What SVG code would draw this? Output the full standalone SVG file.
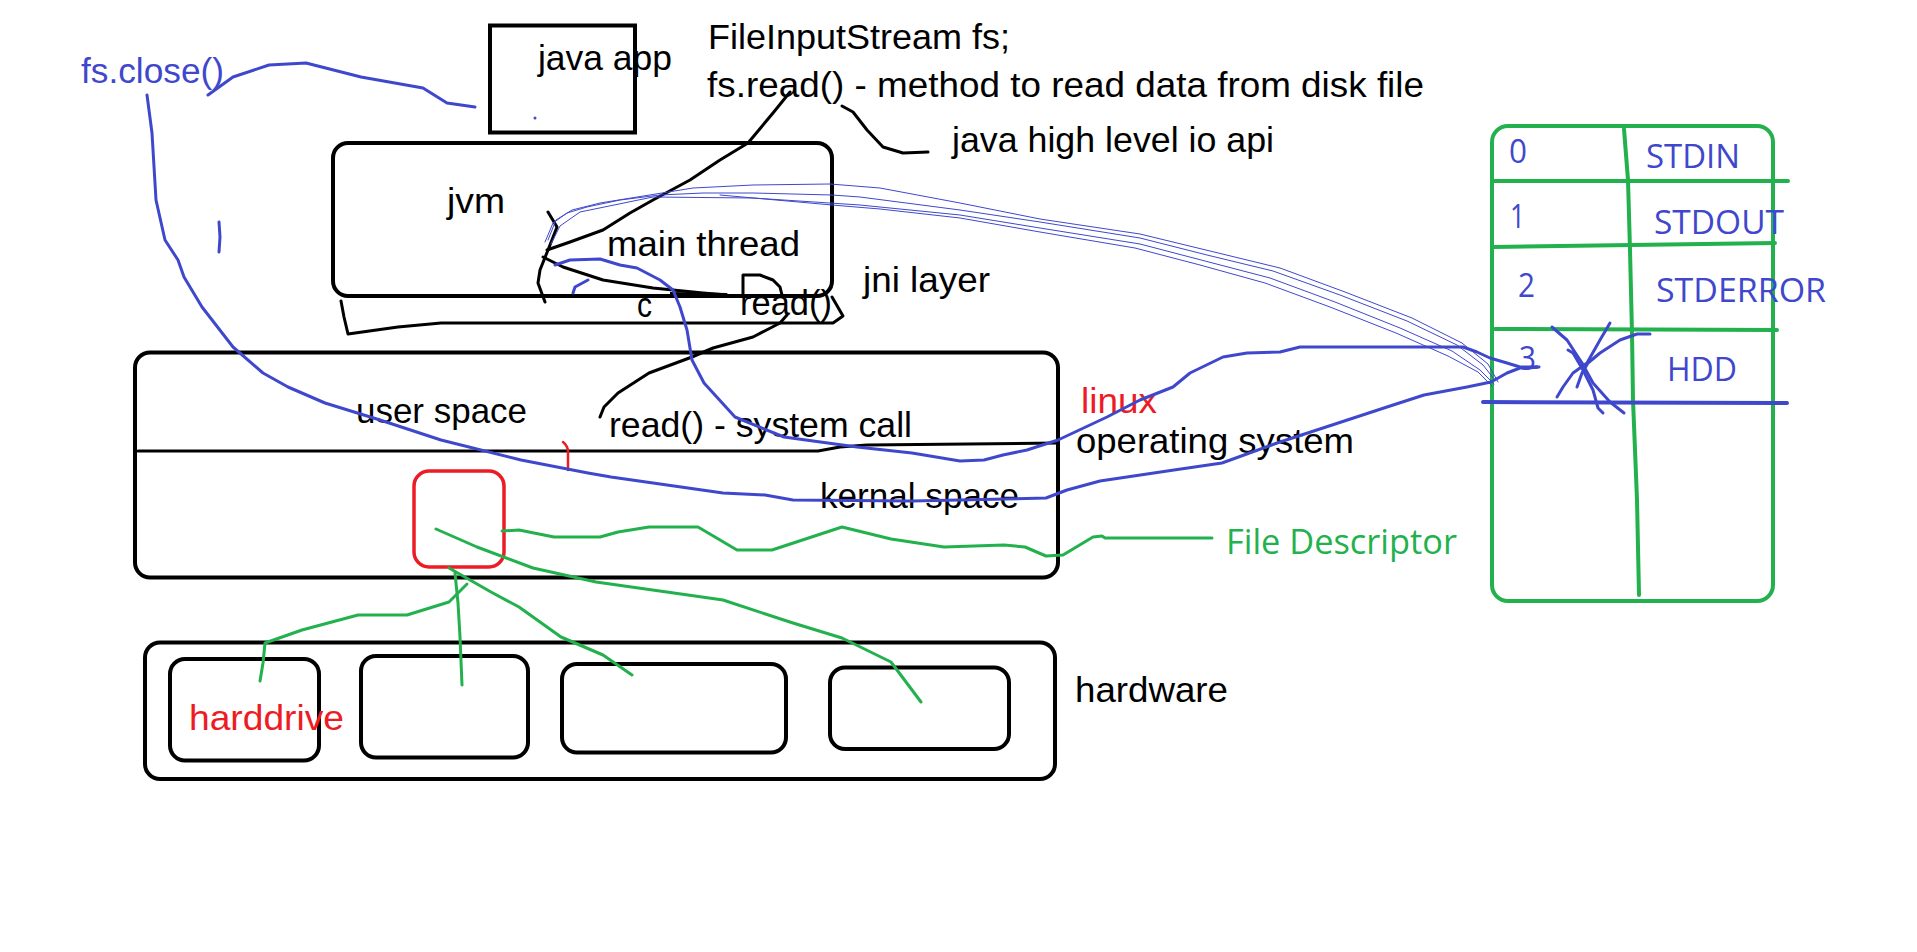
<svg xmlns="http://www.w3.org/2000/svg" width="1917" height="952" viewBox="0 0 1917 952">
<style>
.box{fill:none;stroke:#000;stroke-width:4}
.t{font-family:"Liberation Sans",Arial,sans-serif;font-size:35px}
.tb{font-family:"Open Sans","Liberation Sans",sans-serif;font-size:32px;fill:#3f48cc}
.k{fill:#000}.b{fill:#3f48cc}.r{fill:#ed1c24}.g{fill:#22b14c}
.pk{fill:none;stroke:#000;stroke-width:3;stroke-linecap:round;stroke-linejoin:round}
.pb{fill:none;stroke:#3f48cc;stroke-width:3;stroke-linecap:round;stroke-linejoin:round}
.pt{fill:none;stroke:#3f48cc;stroke-width:1;stroke-linecap:round;stroke-linejoin:round}
.pg{fill:none;stroke:#22b14c;stroke-width:3;stroke-linecap:round;stroke-linejoin:round}
.gl{fill:none;stroke:#22b14c;stroke-width:4;stroke-linecap:round}
</style>
<rect width="1917" height="952" fill="#fff"/>

<g id="java-app">
<rect class="box" x="490" y="25.5" width="145" height="107"/>
<text class="t k" x="538" y="70" textLength="134" lengthAdjust="spacingAndGlyphs">java app</text>
<circle cx="535" cy="118" r="1.5" fill="#3f48cc"/>
</g>

<g id="code-notes">
<text class="t k" x="708" y="49" textLength="302" lengthAdjust="spacingAndGlyphs">FileInputStream fs;</text>
<text class="t k" x="707" y="97" textLength="717" lengthAdjust="spacingAndGlyphs">fs.read() - method to read data from disk file</text>
<text class="t k" x="952" y="152" textLength="322" lengthAdjust="spacingAndGlyphs">java high level io api</text>
</g>

<g id="fs-close">
<text class="t b" x="81" y="83" textLength="143" lengthAdjust="spacingAndGlyphs">fs.close()</text>
</g>

<g id="jvm">
<rect class="box" x="333" y="143" width="499" height="153" rx="15"/>
<text class="t k" x="447" y="213" textLength="58" lengthAdjust="spacingAndGlyphs">jvm</text>
<text class="t k" x="607" y="256" textLength="193" lengthAdjust="spacingAndGlyphs">main thread</text>
</g>

<g id="jni-layer">
<path class="pk" d="M341,301 L344,317 L348,334 L398,327 L441,323 L833,323 L843,316 L832,297"/>
<path class="pk" d="M743,295 L743,275 L760,275 L773,280 L780,287 L782,295"/>
<text class="t k" x="863" y="292" textLength="127" lengthAdjust="spacingAndGlyphs">jni layer</text>
<text class="t k" x="637" y="317" textLength="15" lengthAdjust="spacingAndGlyphs">c</text>
<text class="t k" x="740" y="315" textLength="92" lengthAdjust="spacingAndGlyphs">read()</text>
</g>

<g id="os">
<rect class="box" x="135" y="352.5" width="923" height="225" rx="15"/>
<path class="pk" d="M138,451 L818,451 L840,447 L867,445 L1058,443"/>
<text class="t k" x="356" y="423" textLength="171" lengthAdjust="spacingAndGlyphs">user space</text>
<text class="t k" x="609" y="437" textLength="303" lengthAdjust="spacingAndGlyphs">read() - system call</text>
<text class="t k" x="820" y="508" textLength="199" lengthAdjust="spacingAndGlyphs">kernal space</text>
<text class="t r" x="1081" y="413" textLength="76" lengthAdjust="spacingAndGlyphs">linux</text>
<text class="t k" x="1076" y="453" textLength="278" lengthAdjust="spacingAndGlyphs">operating system</text>
<path d="M563,442 Q568,446 568,452 L568,470" fill="none" stroke="#ed1c24" stroke-width="2.5" stroke-linecap="round"/>
</g>

<g id="fd-box">
<rect x="414" y="471" width="90" height="96" rx="15" fill="none" stroke="#ed1c24" stroke-width="3.5"/>
</g>

<g id="file-descriptor-label">
<text x="1226" y="554" font-family="'Open Sans','Liberation Sans',sans-serif" font-size="34" class="g" textLength="231" lengthAdjust="spacingAndGlyphs">File Descriptor</text>
</g>

<g id="hardware">
<rect class="box" x="145" y="642.5" width="910" height="136.5" rx="15"/>
<text class="t k" x="1075" y="702" textLength="153" lengthAdjust="spacingAndGlyphs">hardware</text>
</g>
<g id="harddrive">
<rect class="box" x="170" y="659" width="149" height="101.5" rx="15"/>
<text class="t r" x="189" y="730" textLength="155" lengthAdjust="spacingAndGlyphs">harddrive</text>
</g>
<g id="hw-2"><rect class="box" x="361" y="656" width="167" height="101.5" rx="15"/></g>
<g id="hw-3"><rect class="box" x="562" y="664" width="224" height="88.5" rx="15"/></g>
<g id="hw-4"><rect class="box" x="830" y="667.5" width="179" height="81.5" rx="15"/></g>

<g id="fd-table">
<rect x="1492" y="126" width="281" height="475" rx="16" fill="none" stroke="#22b14c" stroke-width="4"/>
<path class="gl" d="M1624,129 L1628,180 L1630,250 L1632,333 L1633,400 L1637,500 L1639,595"/>
<path class="gl" d="M1492,181 L1788,181"/>
<path class="gl" d="M1493,247 L1775,243"/>
<path class="gl" d="M1495,329 L1777,330"/>
<text class="tb" x="1509" y="163" textLength="18" lengthAdjust="spacingAndGlyphs">0</text>
<text class="tb" x="1646" y="168" textLength="94" lengthAdjust="spacingAndGlyphs">STDIN</text>
<text class="tb" x="1510" y="228" textLength="15" lengthAdjust="spacingAndGlyphs">1</text>
<text class="tb" x="1654" y="234" textLength="130" lengthAdjust="spacingAndGlyphs">STDOUT</text>
<text class="tb" x="1518" y="297" textLength="17" lengthAdjust="spacingAndGlyphs">2</text>
<text class="tb" x="1656" y="302" textLength="170" lengthAdjust="spacingAndGlyphs">STDERROR</text>
<text class="tb" x="1519" y="370" textLength="17" lengthAdjust="spacingAndGlyphs">3</text>
<text class="tb" x="1667" y="381" textLength="70" lengthAdjust="spacingAndGlyphs">HDD</text>
<path d="M1483,402 L1787,403" fill="none" stroke="#3f48cc" stroke-width="4" stroke-linecap="round"/>
<path class="pb" d="M1552,327 L1567,340 L1582,363 L1593,383 L1610,402 L1624,413"/>
<path class="pb" d="M1610,323 L1600,340 L1587,363 L1573,373 L1563,387 L1557,397"/>
<path class="pb" d="M1568,350 L1573,353 L1583,370 L1593,390 L1598,408 L1603,413"/>
<path class="pb" d="M1577,387 L1582,373 L1588,363 L1600,353 L1620,340 L1637,334 L1650,334"/>
</g>

<g id="connectors">
<!-- black pen -->
<path class="pk" d="M790,92 L773,113 L748,143 L720,160 L690,180 L653,200 L630,213 L603,230 L570,242 L547,250"/>
<path class="pk" d="M548,212 L557,227 L548,250 L540,270 L538,283 L545,302"/>
<path class="pk" d="M543,257 L563,267 L603,280 L653,288 L703,293 L727,295"/>
<path d="M670,292 L727,293 L727,297 L670,296 Z" fill="#000"/>
<path class="pk" d="M842,106 L853,112 L867,130 L883,147 L903,153 L928,152"/>
<path class="pk" d="M787,315 L780,323 L753,337 L713,348 L692,357 L649,373 L618,393 L604,407 L600,417"/>
<!-- blue pen -->
<path class="pb" d="M208,95 L233,77 L269,65 L306,63 L361,77 L423,88 L447,103 L475,107"/>
<path class="pb" d="M219,222 L220,237 L219,252"/>
<path class="pb" d="M147,95 L152,133 L156,200 L165,240 L178,260 L184,277 L202,307 L233,347 L263,373 L288,387 L325,403 L380,420 L441,440 L521,460 L588,473 L611,477 L667,485 L723,493 L765,495 L793,500 L912,501 L1046,498 L1067,490 L1100,481 L1174,470 L1222,463 L1277,443 L1326,427 L1387,407 L1424,395 L1467,387 L1491,382 L1507,373 L1520,368 L1537,367"/>
<path class="pb" d="M573,293 L575,287 L588,280"/>
<path class="pb" d="M555,265 L570,260 L600,259 L620,265 L637,268 L660,280 L673,290 L680,307 L687,330 L692,360 L704,383 L735,417 L784,437 L857,447 L912,453 L960,461 L984,460 L1003,455 L1027,450 L1058,440 L1107,417 L1140,400 L1173,387 L1190,373 L1223,357 L1247,353 L1280,352 L1300,347 L1463,347 L1477,352 L1490,358 L1507,363 L1520,367 L1537,367"/>
<path class="pb" d="M1528,368 L1539,367"/>
<!-- thin blue bundle -->
<path class="pt" d="M545,242 L553,223 L567,213 L587,207 L620,200 L660,195 L703,193 L753,193 L832,195 L860,197 L960,210 L1040,222 L1140,238 L1207,255 L1273,271 L1340,295 L1407,321 L1457,345 L1483,365 L1495,380"/>
<path class="pt" d="M548,240 L556,220 L572,210 L600,203 L693,188 L753,185 L830,184 L880,188 L960,203 L1040,219 L1140,234 L1210,251 L1280,268 L1345,292 L1412,318 L1462,343 L1488,364 L1498,382"/>
<path class="pt" d="M551,244 L560,226 L580,212 L653,197 L753,198 L860,205 L960,215 L1040,228 L1140,244 L1205,261 L1270,278 L1335,302 L1400,328 L1452,351 L1480,370 L1494,384"/>
<path class="pt" d="M720,195 L832,205 L880,209 L960,218 L1040,232 L1135,248 L1200,265 L1265,283 L1330,307 L1396,333 L1448,356 L1478,372 L1492,386"/>
<!-- green pen -->
<path class="pg" d="M502,531 L519,530 L554,537 L600,537 L618,532 L649,527 L698,527 L737,550 L772,550 L842,527 L891,539 L944,547 L1004,545 L1025,547 L1046,556 L1063,555 L1093,537 L1102,536 L1105,538 L1212,538"/>
<path class="pg" d="M436,529 L477,547 L533,568 L596,582 L688,595 L723,600 L793,623 L842,638 L891,662 L912,690 L921,702"/>
<path class="pg" d="M449,568 L491,592 L519,607 L561,637 L603,655 L632,675"/>
<path class="pg" d="M455,573 L458,603 L460,637 L462,685"/>
<path class="pg" d="M467,584 L449,602 L407,615 L358,615 L302,630 L265,643 L263,663 L260,681"/>
</g>
</svg>
